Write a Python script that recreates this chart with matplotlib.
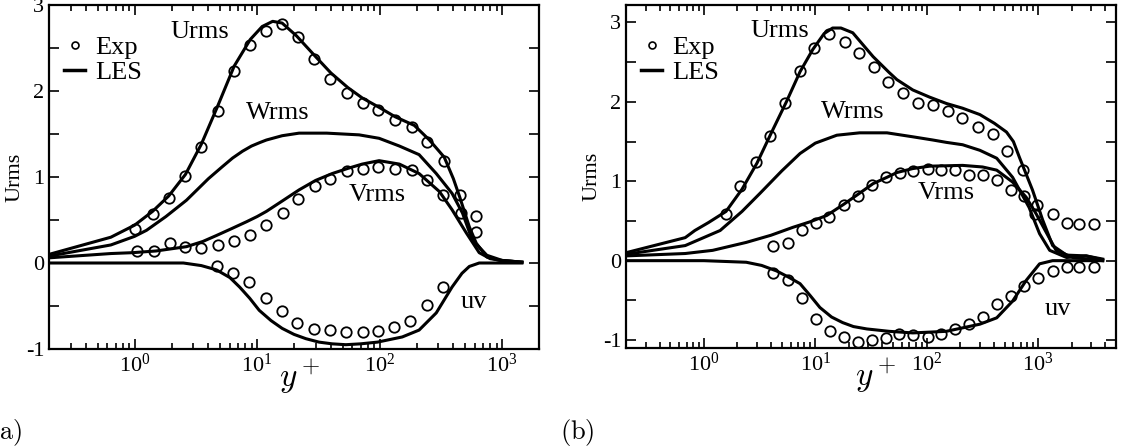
import matplotlib
matplotlib.use("Agg")
import matplotlib.pyplot as plt
from matplotlib.lines import Line2D
from matplotlib.ticker import MultipleLocator, LogLocator, NullFormatter

plt.rcParams["font.family"] = ["Liberation Serif", "DejaVu Serif"]
plt.rcParams["mathtext.fontset"] = "stix"
plt.rcParams["axes.unicode_minus"] = False

# ---------------- panel (a) ----------------
a_exp_u_x = [1.0, 1.4, 1.9, 2.6, 3.5, 4.75, 6.5, 8.8, 11.9, 16.1, 21.4, 29.4, 39.7, 54.5, 72.5, 97, 134, 184, 245, 337, 450, 615]
a_exp_u_y = [0.39, 0.57, 0.76, 1.01, 1.35, 1.77, 2.23, 2.54, 2.70, 2.78, 2.63, 2.37, 2.14, 1.98, 1.86, 1.78, 1.66, 1.58, 1.41, 1.19, 0.79, 0.55]
a_exp_v_x = [1.04, 1.43, 1.93, 2.6, 3.5, 4.75, 6.5, 8.8, 11.9, 16.3, 21.7, 29.9, 39.7, 54.5, 73, 97, 134, 184, 245, 330, 465, 615]
a_exp_v_y = [0.14, 0.14, 0.23, 0.19, 0.17, 0.21, 0.26, 0.33, 0.44, 0.58, 0.74, 0.90, 0.98, 1.07, 1.09, 1.12, 1.09, 1.08, 0.97, 0.79, 0.58, 0.36]
a_exp_uv_x = [4.7, 6.3, 8.6, 11.9, 16.1, 21, 29, 39.7, 53.5, 72.5, 97, 132, 178, 245, 330]
a_exp_uv_y = [-0.03, -0.12, -0.22, -0.41, -0.56, -0.70, -0.77, -0.78, -0.80, -0.80, -0.79, -0.74, -0.68, -0.49, -0.28]

a_les_u_x = [0.2, 0.64, 0.8, 1.0, 1.4, 1.9, 2.6, 3.5, 4.75, 6.5, 8.8, 11, 13.4, 16, 21, 30, 40, 55, 72, 99, 134, 192, 255, 337, 400, 450, 540, 615, 750, 950, 1450]
a_les_u_y = [0.10, 0.30, 0.37, 0.44, 0.60, 0.78, 1.03, 1.38, 1.82, 2.29, 2.60, 2.75, 2.81, 2.79, 2.64, 2.40, 2.21, 2.04, 1.92, 1.81, 1.70, 1.60, 1.43, 1.23, 0.98, 0.77, 0.42, 0.23, 0.07, 0.03, 0.01]
a_les_w_x = [0.2, 0.64, 1.0, 1.25, 1.8, 2.65, 4.0, 5.2, 6.3, 7.6, 9, 10.5, 11.9, 16, 22, 37, 68, 99, 145, 210, 290, 390, 475, 570, 750, 1000, 1450]
a_les_w_y = [0.08, 0.21, 0.31, 0.38, 0.54, 0.73, 0.98, 1.12, 1.22, 1.30, 1.36, 1.40, 1.43, 1.48, 1.51, 1.51, 1.49, 1.45, 1.36, 1.26, 1.04, 0.81, 0.58, 0.27, 0.09, 0.03, 0.01]
a_les_v_x = [0.2, 0.64, 0.96, 1.5, 2.65, 3.6, 4.66, 6.2, 8.2, 10, 11.9, 16, 22, 30, 41, 55, 72, 99, 145, 210, 308, 390, 510, 650, 800, 1000, 1450]
a_les_v_y = [0.06, 0.11, 0.12, 0.14, 0.19, 0.25, 0.32, 0.40, 0.48, 0.54, 0.60, 0.72, 0.85, 0.96, 1.04, 1.10, 1.15, 1.19, 1.15, 1.04, 0.83, 0.62, 0.35, 0.12, 0.05, 0.03, 0.01]
a_les_uv_x = [0.2, 1.0, 2.5, 3.5, 4.66, 6, 7.2, 8.7, 10.4, 13, 16, 20, 25, 32, 41, 53, 70, 96, 153, 210, 290, 390, 470, 540, 650, 1000, 1450]
a_les_uv_y = [0, 0, 0, -0.03, -0.08, -0.17, -0.28, -0.41, -0.55, -0.67, -0.76, -0.83, -0.88, -0.92, -0.94, -0.95, -0.94, -0.92, -0.86, -0.78, -0.58, -0.28, -0.12, -0.04, 0, 0, 0]

# ---------------- panel (b) ----------------
b_exp_u_x = [1.58, 2.1, 2.93, 3.9, 5.4, 7.3, 9.7, 13.2, 18.4, 24.6, 33.4, 44.6, 61, 83, 113, 154, 206, 286, 390, 530, 725, 985, 1350, 1800, 2350, 3200]
b_exp_u_y = [0.59, 0.94, 1.24, 1.57, 1.99, 2.39, 2.68, 2.86, 2.76, 2.62, 2.44, 2.25, 2.11, 1.98, 1.96, 1.88, 1.80, 1.68, 1.59, 1.38, 1.14, 0.70, 0.59, 0.48, 0.46, 0.46]
b_exp_v_x = [4.2, 5.7, 7.6, 10.1, 13.2, 18, 24, 32, 43, 57, 75, 102, 134, 178, 238, 317, 425, 570, 745, 945]
b_exp_v_y = [0.18, 0.22, 0.39, 0.47, 0.55, 0.70, 0.81, 0.95, 1.05, 1.10, 1.13, 1.16, 1.14, 1.14, 1.08, 1.08, 1.01, 0.89, 0.81, 0.59]
b_exp_uv_x = [4.2, 5.7, 7.6, 10.1, 13.5, 18, 24, 32, 43, 56, 75, 102, 134, 178, 238, 317, 425, 570, 745, 1000, 1350, 1800, 2350, 3150]
b_exp_uv_y = [-0.15, -0.24, -0.47, -0.73, -0.89, -0.96, -1.03, -1.0, -0.97, -0.92, -0.94, -0.96, -0.92, -0.86, -0.80, -0.71, -0.55, -0.44, -0.32, -0.22, -0.13, -0.08, -0.08, -0.08]

b_les_u_x = [0.2, 0.68, 0.83, 1.1, 1.58, 2.2, 3.0, 4.0, 5.5, 7.3, 9.5, 12, 14.3, 17, 21.7, 33, 46, 54, 75, 106, 150, 210, 300, 405, 520, 600, 680, 890, 1100, 1350, 1800, 2700, 3800]
b_les_u_y = [0.10, 0.29, 0.38, 0.48, 0.62, 0.90, 1.23, 1.60, 2.00, 2.38, 2.66, 2.86, 2.93, 2.93, 2.87, 2.57, 2.37, 2.28, 2.15, 2.06, 1.98, 1.92, 1.84, 1.73, 1.62, 1.50, 1.30, 0.89, 0.51, 0.19, 0.07, 0.06, 0.02]
b_les_w_x = [0.2, 0.68, 1.4, 2.2, 3.2, 5, 7.3, 10, 15.6, 25, 44, 75, 113, 150, 210, 300, 425, 590, 830, 1030, 1270, 1800, 2300, 2700, 3800]
b_les_w_y = [0.08, 0.19, 0.38, 0.62, 0.85, 1.13, 1.35, 1.48, 1.58, 1.61, 1.61, 1.56, 1.52, 1.49, 1.46, 1.39, 1.29, 1.05, 0.67, 0.34, 0.13, 0.04, 0.05, 0.06, 0.01]
b_les_v_x = [0.2, 0.68, 1.2, 2.4, 4, 6.3, 9, 12.7, 18, 25, 33, 44, 54, 75, 106, 210, 317, 425, 590, 780, 960, 1200, 1450, 2050, 3800]
b_les_v_y = [0.06, 0.09, 0.13, 0.23, 0.32, 0.42, 0.49, 0.57, 0.71, 0.85, 0.97, 1.05, 1.11, 1.16, 1.19, 1.20, 1.18, 1.14, 0.99, 0.80, 0.59, 0.34, 0.13, 0.04, 0.0]
b_les_uv_x = [0.2, 1.0, 2.4, 3.3, 4.5, 5.8, 7.3, 9, 11, 14, 17.6, 22, 29, 46, 75, 150, 300, 425, 590, 780, 1030, 1350, 3800]
b_les_uv_y = [0, 0, -0.02, -0.06, -0.13, -0.21, -0.29, -0.44, -0.59, -0.71, -0.78, -0.83, -0.86, -0.89, -0.91, -0.89, -0.80, -0.72, -0.51, -0.25, -0.04, 0, 0]

labels = ["Urms", "Wrms", "Vrms", "uv"]
a_label_pos = [(3.4, 2.69), (14.7, 1.74), (96, 0.79), (594, -0.45)]
b_label_pos = [(4.8, 2.89), (21.7, 1.87), (150, 0.85), (1500, -0.61)]

fig = plt.figure(figsize=(11.23, 4.48), dpi=100)
ax1 = fig.add_axes([49 / 1123, 99 / 448, 490 / 1123, 344 / 448])
ax2 = fig.add_axes([626 / 1123, 100 / 448, 490 / 1123, 343 / 448])

panels = [
    (ax1, (0.2, 2000), (-1, 3), a_label_pos, 0.512,
     [(a_exp_u_x, a_exp_u_y), (a_exp_v_x, a_exp_v_y), (a_exp_uv_x, a_exp_uv_y)],
     [(a_les_u_x, a_les_u_y), (a_les_w_x, a_les_w_y), (a_les_v_x, a_les_v_y), (a_les_uv_x, a_les_uv_y)]),
    (ax2, (0.2, 5000), (-1.1, 3.22), b_label_pos, 0.51,
     [(b_exp_u_x, b_exp_u_y), (b_exp_v_x, b_exp_v_y), (b_exp_uv_x, b_exp_uv_y)],
     [(b_les_u_x, b_les_u_y), (b_les_w_x, b_les_w_y), (b_les_v_x, b_les_v_y), (b_les_uv_x, b_les_uv_y)]),
]

for ax, xl, yl, lpos, xlab_x, exps, less in panels:
    for x, y in less:
        ax.plot(x, y, "k-", lw=2.2)
    for x, y in exps:
        ax.plot(x, y, "o", mfc="none", mec="k", ms=7.5, mew=1.3, ls="none")
    for txt, (tx, ty) in zip(labels, lpos):
        ax.text(tx, ty, txt, fontsize=19, ha="center", va="center")

    ax.set_xscale("log")
    ax.set_xlim(*xl)
    ax.set_ylim(*yl)
    ax.xaxis.set_major_locator(LogLocator(base=10, numticks=10))
    ax.xaxis.set_minor_locator(LogLocator(base=10, subs=range(2, 10), numticks=10))
    ax.xaxis.set_minor_formatter(NullFormatter())
    ax.yaxis.set_major_locator(MultipleLocator(1))
    ax.yaxis.set_minor_locator(MultipleLocator(0.5))
    ax.tick_params(which="both", direction="in", top=True, right=True, width=1.2)
    ax.tick_params(which="major", length=7, labelsize=16)
    ax.tick_params(which="minor", length=4)
    ax.tick_params(axis="y", which="minor", length=7)
    for s in ax.spines.values():
        s.set_linewidth(1.6)
    ax.set_ylabel("Urms", fontsize=16)
    ax.yaxis.set_label_coords(-0.049, 0.5)
    ax.set_xlabel(r"$y^+$", fontsize=24, math_fontfamily="cm")
    ax.xaxis.set_label_coords(xlab_x, -0.025)

    handles = [Line2D([], [], marker="o", mfc="none", mec="k", ms=5, mew=1.2, ls="none"),
               Line2D([], [], color="k", lw=2.5)]
    ax.legend(handles, ["Exp", "LES"], loc="upper left", frameon=False, fontsize=19,
              handlelength=0.8, handletextpad=0.4, labelspacing=0.05,
              borderaxespad=0.3, bbox_to_anchor=(-0.007, 0.965))

fig.text(-0.01, 0.02, r"$\mathrm{(a)}$", fontsize=19, math_fontfamily="cm")
fig.text(560 / 1123, 0.02, r"$\mathrm{(b)}$", fontsize=19, math_fontfamily="cm")

fig.savefig("out.png", dpi=100)
